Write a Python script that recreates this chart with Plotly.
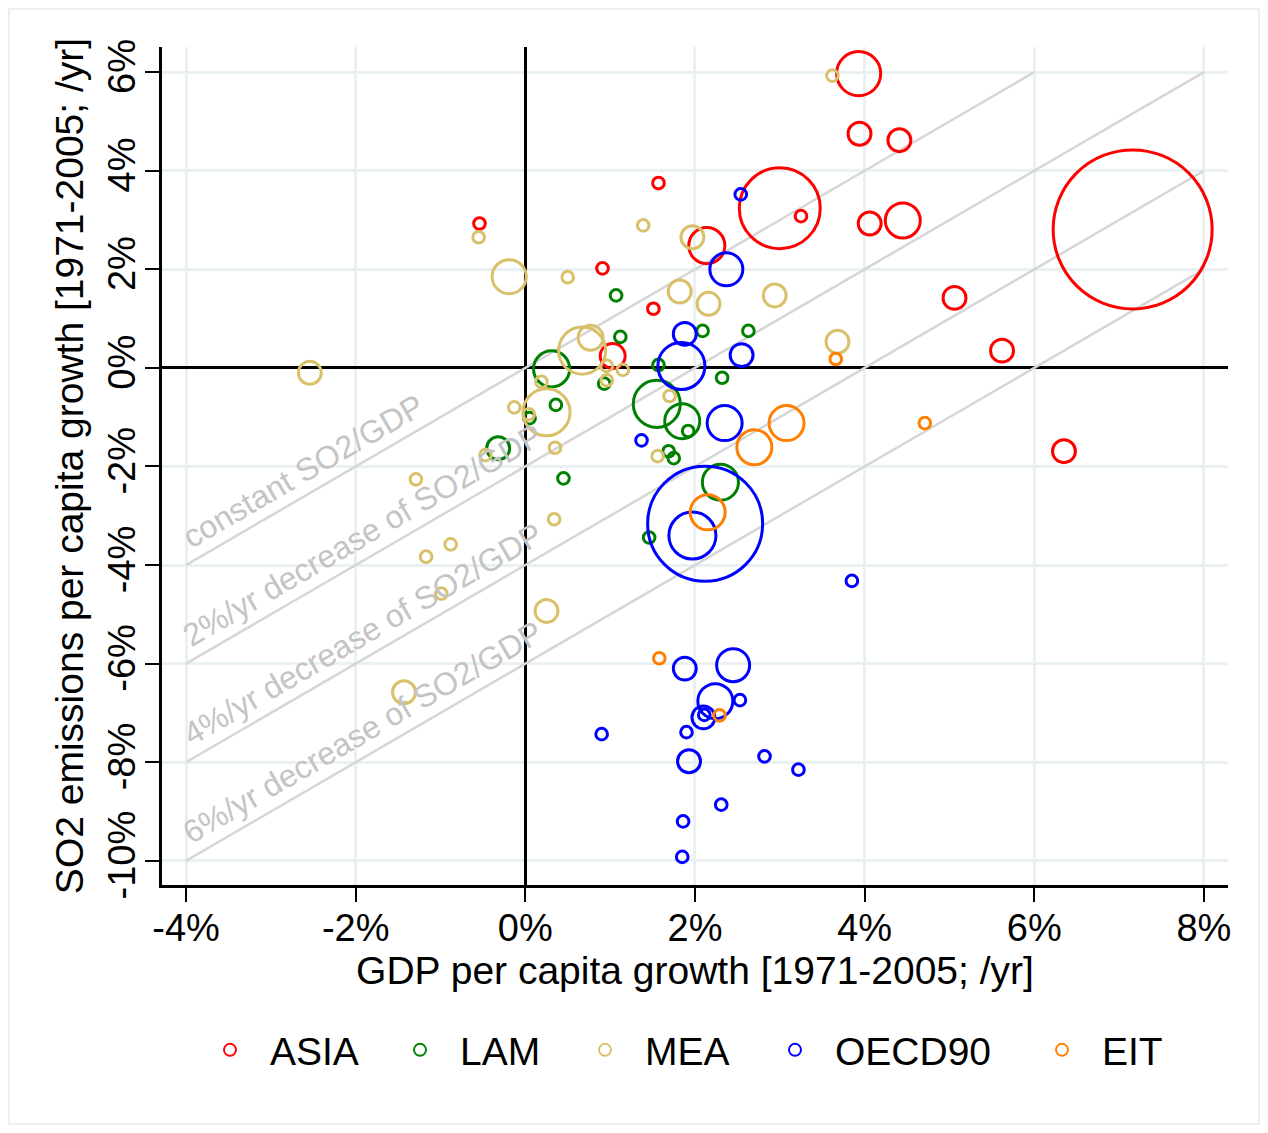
import plotly.graph_objects as go

# ---------------- data ----------------
regions = ["ASIA", "LAM", "MEA", "OECD90", "EIT"]
region_colors = ["#FF0000", "#008000", "#D9C06A", "#0000FF", "#FF8000"]

asia_x = [-0.54, 3.93, 3.94, 1.57, 3.00, 3.25, 4.06, 2.14, 0.91, 1.51, 1.03, 4.41, 4.45, 7.16, 5.06, 5.62, 6.35]
asia_y = [2.93, 5.97, 4.75, 3.75, 3.24, 3.08, 2.93, 2.48, 2.02, 1.20, 0.24, 4.62, 2.99, 2.81, 1.42, 0.35, -1.69]
asia_pop = [7, 100, 27, 7, 337, 7, 27, 67, 7, 7, 32, 27, 63, 1300, 27, 27, 27]

lam_x = [1.07, 2.09, 2.63, 1.12, 0.31, 1.57, 2.32, 0.93, 1.55, 1.85, 1.92, 0.36, 0.05, -0.32, 0.45, 1.69, 1.75, 1.46, 2.30]
lam_y = [1.47, 0.75, 0.75, 0.63, -0.02, 0.06, -0.20, -0.32, -0.73, -1.08, -1.28, -0.75, -1.02, -1.63, -2.24, -1.69, -1.83, -3.44, -2.32]
lam_pop = [7, 7, 7, 7, 67, 7, 7, 7, 114, 63, 7, 7, 7, 27, 7, 7, 7, 7, 67]

mea_x = [-0.55, -0.19, -2.54, 3.62, 1.39, 1.97, 0.50, 1.82, 2.16, 2.94, 3.68, 0.67, 0.77, 0.96, 1.15, 0.96,
         0.19, 0.25, -0.13, 0.04, -0.47, 0.35, 1.70, 1.56, 0.34, 0.25, -1.29, -0.88, -1.17, -0.99, -1.43]
mea_y = [2.65, 1.85, -0.10, 5.93, 2.89, 2.65, 1.84, 1.55, 1.30, 1.47, 0.53, 0.35, 0.61, 0.04, -0.04, -0.25,
         -0.28, -0.90, -0.80, -0.94, -1.77, -1.62, -0.57, -1.79, -3.07, -4.93, -2.26, -3.58, -3.83, -4.58, -6.58]
mea_pop = [7, 60, 27, 7, 7, 27, 7, 27, 27, 27, 27, 114, 32, 7, 7, 7,
           7, 114, 7, 7, 7, 7, 7, 7, 7, 27, 7, 7, 7, 7, 27]

oecd_x = [2.54, 2.37, 1.88, 2.55, 1.84, 2.35, 1.37, 2.12, 1.97, 3.85, 1.88, 2.45, 2.24, 2.53, 2.10, 2.11,
          0.90, 1.90, 1.93, 2.82, 3.22, 2.31, 1.86, 1.85]
oecd_y = [3.52, 2.00, 0.69, 0.26, 0.04, -1.12, -1.47, -3.16, -3.40, -4.32, -6.10, -6.03, -6.76, -6.74, -7.09, -7.04,
          -7.43, -7.39, -7.98, -7.88, -8.15, -8.86, -9.20, -9.92]
oecd_pop = [7, 56, 27, 27, 114, 63, 7, 680, 114, 7, 27, 56, 63, 7, 27, 7,
            7, 7, 27, 7, 7, 7, 7, 7]

eit_x = [3.66, 3.08, 2.70, 2.15, 4.71, 1.58, 2.29]
eit_y = [0.18, -1.12, -1.61, -2.93, -1.12, -5.89, -7.05]
eit_pop = [7, 63, 63, 63, 7, 7, 7]

region_x = [asia_x, lam_x, mea_x, oecd_x, eit_x]
region_y = [asia_y, lam_y, mea_y, oecd_y, eit_y]
region_pop = [asia_pop, lam_pop, mea_pop, oecd_pop, eit_pop]

x_tickvals = [-4, -2, 0, 2, 4, 6, 8]
x_ticktext = ["-4%", "-2%", "0%", "2%", "4%", "6%", "8%"]
y_tickvals = [-10, -8, -6, -4, -2, 0, 2, 4, 6]
y_ticktext = ["-10%", "-8%", "-6%", "-4%", "-2%", "0%", "2%", "4%", "6%"]

decline_rates = [0, 2, 4, 6]
decline_labels = ["constant SO2/GDP", "2%/yr decrease of SO2/GDP",
                  "4%/yr decrease of SO2/GDP", "6%/yr decrease of SO2/GDP"]

x_title = "GDP per capita growth [1971-2005; /yr]"
y_title = "SO2 emissions per capita growth [1971-2005; /yr]"

# ---------------- figure ----------------
FONT = "Liberation Sans, Arial, sans-serif"
X_RANGE = [-4.283, 8.284]
Y_RANGE = [-10.49, 6.51]

fig = go.Figure()

# reference lines of constant SO2/GDP decline
for r in decline_rates:
    x0, x1 = -4, min(8, 6 + r)
    fig.add_trace(go.Scatter(x=[x0, x1], y=[x0 - r, x1 - r], mode="lines",
                             line=dict(color="#D6D6D6", width=2.5),
                             showlegend=False, hoverinfo="skip"))

SIZEREF = 650 / 79.5 ** 2
legend_ids = ["legend", "legend2", "legend3", "legend4", "legend5"]
for name, col, xs, ys, ps, lg in zip(regions, region_colors, region_x, region_y, region_pop, legend_ids):
    fig.add_trace(go.Scatter(
        x=xs, y=ys, mode="markers", name=name, legend=lg,
        marker=dict(size=ps, sizemode="area", sizeref=SIZEREF, opacity=1,
                    symbol="circle-open", color=col,
                    line=dict(color=col, width=3)),
    ))

# labels along the reference lines
label_centers = [(-2.615, -2.085), (-1.917, -3.389), (-1.917, -5.389), (-1.917, -7.389)]
for txt, (cx, cy) in zip(decline_labels, label_centers):
    fig.add_annotation(x=cx, y=cy, xref="x", yref="y", text=txt, showarrow=False,
                       textangle=-30.17, xanchor="center", yanchor="middle",
                       font=dict(family=FONT, size=32, color="#C4C4C4"))

W, H = 1252, 1117
ML, MR, MT, MB = 154, 32, 39, 240
PW, PH = W - ML - MR, H - MT - MB

legend_px = [235, 425, 610, 800, 1067]   # screen x of legend symbols
layout_legends = {}
for lg, px in zip(legend_ids, legend_px):
    layout_legends[lg] = dict(
        x=(px - 8 - 45 - ML) / PW, xanchor="left",
        y=(MT + PH - (1050 - 8)) / PH, yanchor="middle",
        orientation="h", itemsizing="constant", itemwidth=70,
        font=dict(family=FONT, size=39, color="black"),
        bgcolor="rgba(0,0,0,0)", borderwidth=0)

grid_col = "#E9F1F2"
fig.update_layout(
    width=W, height=H,
    margin=dict(l=ML, r=MR, t=MT, b=MB, pad=0),
    paper_bgcolor="white", plot_bgcolor="white",
    font=dict(family=FONT, color="black"),
    showlegend=True,
    xaxis=dict(range=X_RANGE, tickvals=x_tickvals, ticktext=x_ticktext,
               showgrid=True, gridcolor=grid_col, gridwidth=3,
               zeroline=True, zerolinecolor="black", zerolinewidth=2.5,
               showline=True, linecolor="black", linewidth=2.5, mirror=False,
               ticks="outside", ticklen=14, tickwidth=2, tickcolor="black",
               ticklabelstandoff=-6,
               tickfont=dict(family=FONT, size=38, color="black"),
               title=dict(text=x_title, font=dict(family=FONT, size=39, color="black"), standoff=3)),
    yaxis=dict(range=Y_RANGE, tickvals=y_tickvals, ticktext=y_ticktext,
               showgrid=True, gridcolor=grid_col, gridwidth=3,
               zeroline=True, zerolinecolor="black", zerolinewidth=2.5,
               showline=True, linecolor="black", linewidth=2.5, mirror=False,
               ticks="outside", ticklen=14, tickwidth=2, tickcolor="black",
               tickangle=-90, ticklabelstandoff=-5,
               tickfont=dict(family=FONT, size=38, color="black"),
               title=dict(text=y_title, font=dict(family=FONT, size=39, color="black"), standoff=6)),
    **layout_legends,
)

# faint frame around the whole figure
fig.add_shape(type="rect", xref="paper", yref="paper",
              x0=-(ML - 1) / PW, x1=1 + (MR - 1) / PW,
              y0=-(MB - 1) / PH, y1=1 + (MT - 1) / PH,
              line=dict(color="#E6ECEC", width=1.5), layer="below")

fig.write_html("out.html")
